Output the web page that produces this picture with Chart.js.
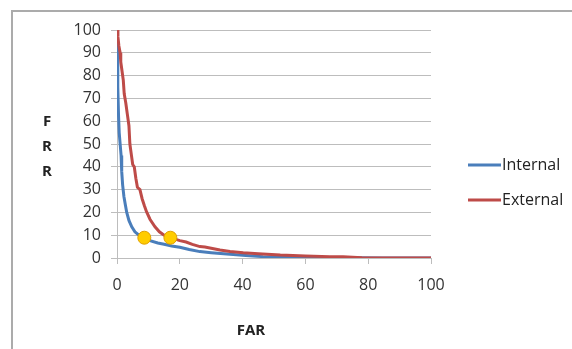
<!DOCTYPE html>
<html>
<head>
<meta charset="utf-8">
<script src="https://cdn.jsdelivr.net/npm/chart.js@4/dist/chart.umd.min.js"></script>
<style>
  html, body { margin: 0; padding: 0; background: #fff; overflow: hidden; }
  #wrap { position: relative; width: 572px; height: 349px; }
  #frame { position: absolute; left: 11px; top: 10px; width: 700px; height: 500px;
           border-left: 2px solid #ababab; border-top: 2px solid #ababab; }
  canvas { position: absolute; left: 0; top: 0; }
</style>
</head>
<body>
<div id="wrap">
  <div id="frame"></div>
  <canvas id="c" width="572" height="349"></canvas>
</div>
<script>
// ---- data ----
const internalFAR = [0, 0.2, 0.3, 0.5, 0.7, 1.0, 1.3, 1.5, 1.8, 2.2, 2.7, 3.1, 3.8, 4.7, 5.7, 7.0, 8.7, 10.5, 13, 15, 17.4, 20, 23, 26.4, 30, 36, 41, 46.5, 55, 65, 75, 85, 100];
const internalFRR = [95, 88, 75, 62, 55, 50, 45, 38, 32, 27, 23, 20, 16.5, 13.7, 11.5, 10, 8.9, 7.6, 6.6, 6.0, 5.3, 4.7, 3.7, 2.8, 2.3, 1.6, 1.1, 0.6, 0.4, 0.2, 0.1, 0.05, 0];

const externalFAR = [0, 0.3, 0.6, 1.0, 1.2, 1.5, 2.0, 2.3, 2.8, 3.3, 3.8, 4.1, 4.6, 5.0, 5.5, 6.0, 6.5, 7.3, 8.0, 8.7, 9.4, 10.5, 12.1, 13.5, 15, 17, 20, 22, 24, 26.4, 28, 32.8, 36, 40.2, 45, 52, 60, 67.8, 72, 78, 90, 100];
const externalFRR = [100, 97, 93, 90, 86, 83, 78, 72, 68, 63, 58, 50, 45, 41, 40, 35, 31, 30, 26, 23, 20.3, 17, 13.7, 11.5, 10, 8.9, 7.6, 7.0, 6.0, 5.0, 4.8, 3.5, 2.9, 2.3, 1.9, 1.3, 0.9, 0.6, 0.5, 0.1, 0, 0];

const markFAR = [8.7, 17];
const markFRR = [8.9, 8.9];

const seriesNames = ['Internal', 'External'];
const xTickStep = 20;
const yTickStep = 10;

// ---- build ----
const toXY = (xs, ys) => xs.map((x, i) => ({ x: x, y: ys[i] }));
const BLUE = '#4a7ebb', RED = '#be4b48';
const FONT = '"Open Sans", "Liberation Sans", sans-serif';

const overlay = {
  id: 'overlay',
  afterDraw(chart) {
    const ctx = chart.ctx, a = chart.chartArea;
    ctx.save();
    ctx.fillStyle = '#222';
    ctx.font = 'bold 15px ' + FONT;
    ctx.textAlign = 'center';
    ctx.textBaseline = 'middle';
    ['F', 'R', 'R'].forEach((ch, i) => ctx.fillText(ch, a.left - 70, a.top + 92 + 25 * i));
    ctx.fillText('FAR', a.left + 134, a.bottom + 73);
    // legend, in series order
    ctx.font = '16px ' + FONT;
    ctx.textAlign = 'left';
    seriesNames.forEach((name, i) => {
      const d = chart.data.datasets.find(ds => ds.label === name);
      const y = a.top + 135 + 35 * i;
      const x0 = a.right + 37;
      ctx.strokeStyle = d.borderColor;
      ctx.lineWidth = 3;
      ctx.beginPath(); ctx.moveTo(x0, y); ctx.lineTo(x0 + 33, y); ctx.stroke();
      ctx.fillStyle = '#222';
      ctx.fillText(d.label, x0 + 34, y);
    });
    ctx.restore();
  }
};

new Chart(document.getElementById('c'), {
  type: 'line',
  data: {
    datasets: [
      { label: 'marks', data: toXY(markFAR, markFRR), showLine: false,
        pointRadius: 6.5, pointHoverRadius: 6.5, pointBackgroundColor: '#ffcc00',
        pointBorderColor: '#e0a000', pointBorderWidth: 1, order: 0 },
      { label: seriesNames[1], data: toXY(externalFAR, externalFRR),
        borderColor: RED, borderWidth: 3, pointRadius: 0, tension: 0, order: 1 },
      { label: seriesNames[0], data: toXY(internalFAR, internalFRR),
        borderColor: BLUE, borderWidth: 3, pointRadius: 0, tension: 0, order: 2 }
    ]
  },
  options: {
    responsive: false,
    animation: false,
    events: [],
    layout: { padding: { left: 0, right: 141, top: 30, bottom: 0 } },
    plugins: { legend: { display: false }, tooltip: { enabled: false } },
    scales: {
      x: {
        type: 'linear', min: 0, max: 100,
        afterFit(s) { s.height = 91; },
        ticks: { stepSize: xTickStep, color: '#333', font: { family: FONT, size: 16 }, padding: 12, maxRotation: 0 },
        grid: { drawOnChartArea: false, drawTicks: true, tickLength: 6, color: '#bdbdbd' },
        border: { color: '#bdbdbd', width: 1 }
      },
      y: {
        type: 'linear', min: 0, max: 100,
        afterFit(s) { s.width = 117; },
        ticks: { stepSize: yTickStep, color: '#333', font: { family: FONT, size: 16 }, padding: 10 },
        grid: { color: '#bdbdbd', tickLength: 6 },
        border: { color: '#bdbdbd', width: 1 }
      }
    }
  },
  plugins: [overlay]
});
</script>
</body>
</html>
